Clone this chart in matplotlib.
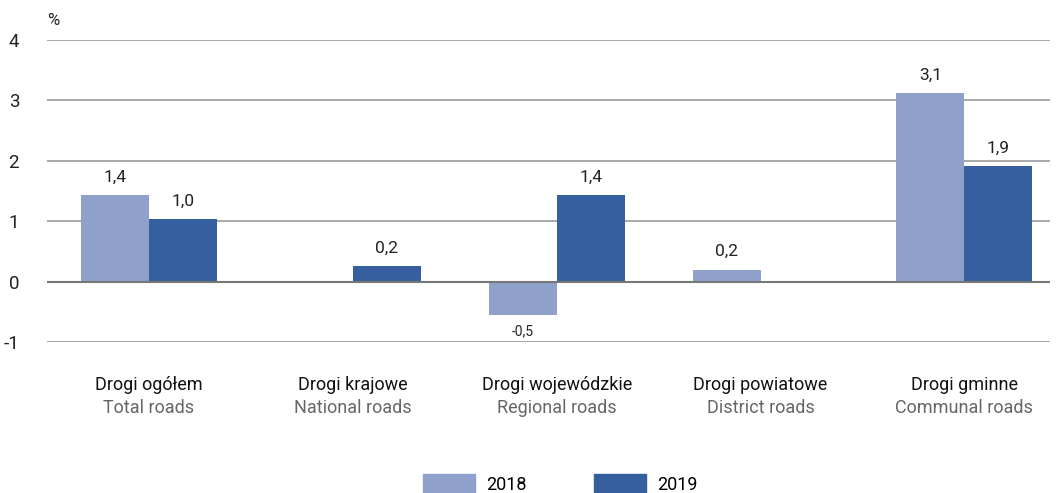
import numpy as np
import matplotlib
matplotlib.use("Agg")
from matplotlib import pyplot as plt
from matplotlib.patches import Patch

plt.rcParams['font.family'] = ['Roboto', 'DejaVu Sans']

cats_pl = ['Drogi ogółem', 'Drogi krajowe', 'Drogi wojewódzkie', 'Drogi powiatowe', 'Drogi gminne']
cats_en = ['Total roads', 'National roads', 'Regional roads', 'District roads', 'Communal roads']
v2018 = [1.44, 0.0, -0.56, 0.2, 3.12]
v2019 = [1.03, 0.25, 1.44, 0.0, 1.92]
lab2018 = ['1,4', '', '-0,5', '0,2', '3,1']
lab2019 = ['1,0', '0,2', '1,4', '', '1,9']
years = ['2018', '2019']

c18 = '#8fa1ca'
c19 = '#355f9e'

fig = plt.figure(figsize=(10.59, 4.93), dpi=100)
ax = fig.add_axes([0.0444, 0.3063, 0.9471, 0.6126])

x = np.arange(len(cats_pl))
w = 0.333
ax.bar(x - w/2, v2018, w, color=c18, zorder=2)
ax.bar(x + w/2, v2019, w, color=c19, zorder=2)

for i in range(len(x)):
    if lab2018[i]:
        v = v2018[i]
        if v >= 0:
            ax.text(x[i] - w/2, v + 0.17, lab2018[i], ha='center', va='bottom', fontsize=12.5, color='#222')
        else:
            ax.text(x[i] - w/2, v - 0.15, lab2018[i], ha='center', va='top', fontsize=10, color='#222')
    if lab2019[i]:
        v = v2019[i]
        ax.text(x[i] + w/2, v + 0.17, lab2019[i], ha='center', va='bottom', fontsize=12.5, color='#222')

ax.set_xlim(-0.5, 4.42)
ax.set_ylim(-1, 4)
ax.set_yticks([-1, 0, 1, 2, 3, 4])
ax.set_yticklabels(['-1', '0', '1', '2', '3', '4'], fontsize=13.5, color='#222')
ax.tick_params(axis='y', length=0, pad=20)
ax.set_xticks([])
for t in [-1, 1, 2, 3, 4]:
    ax.axhline(t, color='#999999', lw=1.2, zorder=1)
ax.axhline(0, color='#777777', lw=1.5, zorder=3)
for s in ax.spines.values():
    s.set_visible(False)

ax.text(-0.5, 4.2, '%', fontsize=12, color='#222', ha='left', va='bottom')

for i in range(len(x)):
    ax.text(x[i], -1.72, cats_pl[i], ha='center', va='center', fontsize=13, color='#111')
    ax.text(x[i], -2.1, cats_en[i], ha='center', va='center', fontsize=13, color='#666')

handles = [Patch(color=c18, label=years[0]), Patch(color=c19, label=years[1])]
fig.legend(handles=handles, loc='lower center', bbox_to_anchor=(0.529, -0.035), ncol=2,
           frameon=False, fontsize=13, handlelength=2.9, handleheight=1.3,
           columnspacing=3.7, handletextpad=0.6)

fig.savefig('out.png', dpi=100, facecolor='white')
